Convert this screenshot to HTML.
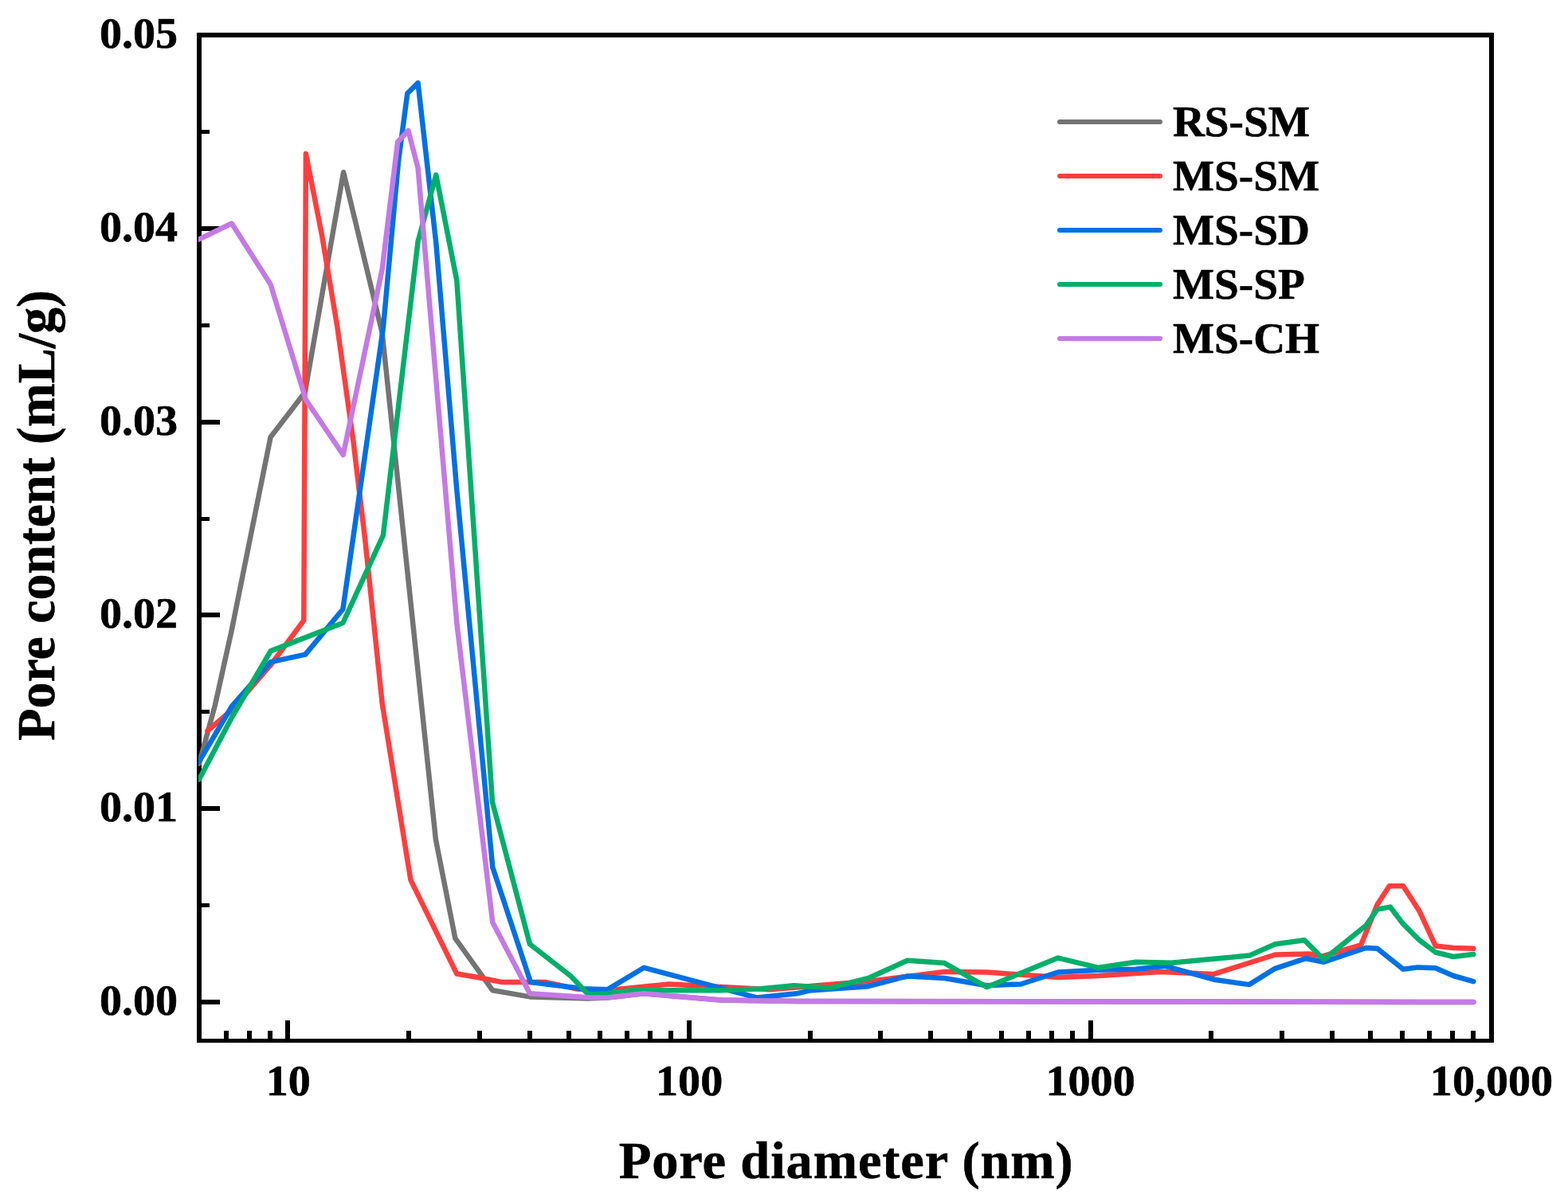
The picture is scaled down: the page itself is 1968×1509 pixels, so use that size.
<!DOCTYPE html>
<html lang="en"><head><meta charset="utf-8"><title>Pore content vs pore diameter</title>
<style>html,body{margin:0;padding:0;background:#fff}body{width:1968px;height:1509px;overflow:hidden}svg{display:block}text{font-family:"Liberation Serif","DejaVu Serif",serif;font-weight:bold;fill:#000;stroke:#000;stroke-width:0.6px;stroke-linejoin:round}</style></head><body>
<svg width="1968" height="1509" viewBox="0 0 1968 1509">
<rect x="0" y="0" width="1968" height="1509" fill="#fff"/>
<g fill="#000" shape-rendering="crispEdges">
<rect x="247" y="41" width="1628" height="6"/>
<rect x="247" y="1304" width="1628" height="5"/>
<rect x="247" y="41" width="6" height="1268"/>
<rect x="1869" y="41" width="6" height="1268"/>
<rect x="253" y="1255.0" width="23" height="6"/>
<rect x="253" y="1134.0" width="10" height="5"/>
<rect x="253" y="1012.0" width="23" height="6"/>
<rect x="253" y="891.0" width="10" height="5"/>
<rect x="253" y="769.0" width="23" height="6"/>
<rect x="253" y="649.0" width="10" height="5"/>
<rect x="253" y="527.0" width="23" height="6"/>
<rect x="253" y="406.0" width="10" height="5"/>
<rect x="253" y="284.0" width="23" height="6"/>
<rect x="253" y="163.0" width="10" height="5"/>
<rect x="281.0" y="1294" width="6" height="10"/>
<rect x="310.0" y="1294" width="6" height="10"/>
<rect x="336.0" y="1294" width="6" height="10"/>
<rect x="358.0" y="1281" width="6" height="23"/>
<rect x="510.0" y="1294" width="6" height="10"/>
<rect x="599.0" y="1294" width="6" height="10"/>
<rect x="662.0" y="1294" width="6" height="10"/>
<rect x="711.0" y="1294" width="6" height="10"/>
<rect x="750.0" y="1294" width="6" height="10"/>
<rect x="784.0" y="1294" width="6" height="10"/>
<rect x="813.0" y="1294" width="6" height="10"/>
<rect x="839.0" y="1294" width="6" height="10"/>
<rect x="862.0" y="1281" width="6" height="23"/>
<rect x="1014.0" y="1294" width="6" height="10"/>
<rect x="1102.0" y="1294" width="6" height="10"/>
<rect x="1165.0" y="1294" width="6" height="10"/>
<rect x="1214.0" y="1294" width="6" height="10"/>
<rect x="1254.0" y="1294" width="6" height="10"/>
<rect x="1288.0" y="1294" width="6" height="10"/>
<rect x="1317.0" y="1294" width="6" height="10"/>
<rect x="1343.0" y="1294" width="6" height="10"/>
<rect x="1366.0" y="1281" width="6" height="23"/>
<rect x="1517.0" y="1294" width="6" height="10"/>
<rect x="1606.0" y="1294" width="6" height="10"/>
<rect x="1669.0" y="1294" width="6" height="10"/>
<rect x="1717.0" y="1294" width="6" height="10"/>
<rect x="1757.0" y="1294" width="6" height="10"/>
<rect x="1791.0" y="1294" width="6" height="10"/>
<rect x="1820.0" y="1294" width="6" height="10"/>
<rect x="1846.0" y="1294" width="6" height="10"/>
</g>
<clipPath id="plotclip"><rect x="249" y="44" width="1623" height="1262"/></clipPath>
<g clip-path="url(#plotclip)">
<polyline points="250.0,958.5 270.0,885.0 290.8,791.0 339.6,548.7 382.8,492.5 431.1,216.2 479.7,418.0 546.9,1053.8 571.3,1177.8 618.3,1243.3 665.0,1251.4 738.0,1253.6 762.6,1252.4 807.3,1247.3 904.9,1255.4 1000.0,1257.0 1849.3,1258.0" fill="none" stroke="#747474" stroke-width="6.5" stroke-linejoin="round" stroke-linecap="round"/>
<polyline points="260.4,917.5 290.8,891.5 339.6,835.0 381.3,778.9 383.9,193.0 404.0,295.0 423.3,410.0 443.3,552.8 458.3,678.0 479.7,883.0 515.4,1104.6 573.3,1222.5 600.0,1227.0 630.5,1233.1 685.4,1233.1 722.0,1241.2 752.4,1244.3 839.8,1235.5 965.9,1242.2 1090.0,1232.0 1185.6,1219.9 1238.5,1220.5 1327.9,1227.0 1378.9,1225.0 1456.2,1219.9 1523.3,1222.9 1600.5,1198.5 1643.2,1197.5 1659.5,1200.6 1708.2,1186.3 1728.6,1135.5 1743.8,1112.2 1761.1,1112.2 1781.4,1143.7 1801.7,1187.4 1824.1,1190.0 1849.3,1190.8" fill="none" stroke="#FF3E3E" stroke-width="6.5" stroke-linejoin="round" stroke-linecap="round"/>
<polyline points="250.0,956.0 290.8,887.0 339.6,831.2 383.3,821.6 430.4,764.7 480.9,412.0 500.0,203.0 511.3,117.3 524.6,104.1 547.3,305.0 573.3,615.0 618.3,1088.8 666.0,1233.1 732.0,1241.2 762.6,1242.2 808.3,1214.8 949.6,1252.4 1000.0,1247.3 1016.0,1243.6 1090.0,1238.2 1138.9,1225.4 1185.6,1228.0 1238.5,1237.2 1281.1,1235.5 1327.9,1220.5 1378.9,1217.8 1425.7,1216.8 1462.3,1212.8 1525.3,1230.0 1568.0,1236.1 1600.5,1215.8 1639.1,1203.2 1661.5,1207.7 1714.3,1190.0 1728.6,1190.8 1761.1,1216.8 1779.4,1214.4 1801.7,1215.2 1824.1,1225.0 1849.3,1232.1" fill="none" stroke="#0070E4" stroke-width="6.5" stroke-linejoin="round" stroke-linecap="round"/>
<polyline points="250.0,978.3 290.8,901.0 339.6,817.4 430.4,782.0 480.9,672.2 524.6,303.0 547.3,219.6 573.3,352.0 618.0,1007.0 665.0,1185.3 715.9,1225.0 738.2,1248.3 762.6,1247.3 793.0,1243.3 904.9,1243.3 955.7,1241.2 996.6,1237.2 1041.3,1240.2 1090.0,1228.0 1138.9,1205.7 1185.6,1209.1 1238.5,1239.2 1327.9,1202.6 1378.9,1214.8 1425.7,1207.7 1470.4,1208.7 1568.0,1199.6 1600.5,1185.3 1637.1,1180.2 1661.5,1204.6 1714.3,1162.0 1728.6,1141.6 1744.8,1138.6 1761.1,1159.9 1781.4,1180.2 1801.7,1195.5 1824.1,1201.0 1849.3,1198.1" fill="none" stroke="#00AF69" stroke-width="6.5" stroke-linejoin="round" stroke-linecap="round"/>
<polyline points="250.0,300.4 290.8,280.5 339.6,357.1 383.9,502.0 430.7,571.0 479.7,338.0 499.1,178.3 512.4,164.0 524.6,210.8 573.3,782.0 618.3,1158.0 665.0,1247.3 742.3,1252.4 762.6,1252.4 807.3,1247.3 904.9,1255.4 1000.0,1257.0 1849.3,1258.0" fill="none" stroke="#C47AE5" stroke-width="6.5" stroke-linejoin="round" stroke-linecap="round"/>
</g>
<text transform="translate(223.1 1273.7) scale(1.0300 1)" font-size="54.5" text-anchor="end">0.00</text>
<text transform="translate(223.1 1031.0) scale(1.0300 1)" font-size="54.5" text-anchor="end">0.01</text>
<text transform="translate(223.1 788.2) scale(1.0300 1)" font-size="54.5" text-anchor="end">0.02</text>
<text transform="translate(223.1 545.5) scale(1.0300 1)" font-size="54.5" text-anchor="end">0.03</text>
<text transform="translate(223.1 302.7) scale(1.0300 1)" font-size="54.5" text-anchor="end">0.04</text>
<text transform="translate(223.1 60.0) scale(1.0300 1)" font-size="54.5" text-anchor="end">0.05</text>
<text transform="translate(361.7 1374.5) scale(1.0300 1)" font-size="54.5" text-anchor="middle">10</text>
<text transform="translate(865.1 1374.5) scale(1.0300 1)" font-size="54.5" text-anchor="middle">100</text>
<text transform="translate(1368.6 1374.5) scale(1.0300 1)" font-size="54.5" text-anchor="middle">1000</text>
<text transform="translate(1872.0 1374.5) scale(1.0300 1)" font-size="54.5" text-anchor="middle">10,000</text>
<line x1="1330" y1="153" x2="1456" y2="153" stroke="#747474" stroke-width="6" stroke-linecap="round"/>
<text transform="translate(1471.9 170.9) scale(1.0140 1)" font-size="54.5" text-anchor="start">RS-SM</text>
<line x1="1330" y1="221" x2="1456" y2="221" stroke="#FF3E3E" stroke-width="6" stroke-linecap="round"/>
<text transform="translate(1471.9 238.9) scale(1.0140 1)" font-size="54.5" text-anchor="start">MS-SM</text>
<line x1="1330" y1="289" x2="1456" y2="289" stroke="#0070E4" stroke-width="6" stroke-linecap="round"/>
<text transform="translate(1471.9 306.9) scale(1.0140 1)" font-size="54.5" text-anchor="start">MS-SD</text>
<line x1="1330" y1="357" x2="1456" y2="357" stroke="#00AF69" stroke-width="6" stroke-linecap="round"/>
<text transform="translate(1471.9 374.9) scale(1.0140 1)" font-size="54.5" text-anchor="start">MS-SP</text>
<line x1="1330" y1="425" x2="1456" y2="425" stroke="#C47AE5" stroke-width="6" stroke-linecap="round"/>
<text transform="translate(1471.9 442.9) scale(1.0140 1)" font-size="54.5" text-anchor="start">MS-CH</text>
<text transform="translate(1061.7 1478.8) scale(1.0 1)" font-size="66.5" text-anchor="middle" textLength="570" lengthAdjust="spacing">Pore diameter (nm)</text>
<text transform="translate(68.4 646.9) rotate(-90)" font-size="67" text-anchor="middle" textLength="565.5" lengthAdjust="spacingAndGlyphs">Pore content (mL/g)</text>
</svg></body></html>
